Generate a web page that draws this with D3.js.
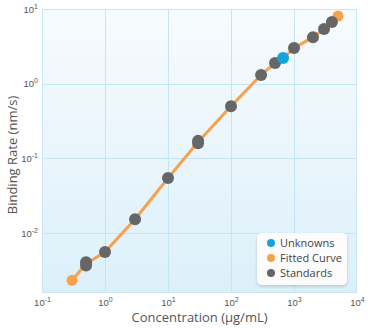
<!DOCTYPE html>
<html>
<head>
<meta charset="utf-8">
<script src="https://cdn.jsdelivr.net/npm/d3@7"></script>
<style>
  html, body { margin: 0; padding: 0; background: #fff; }
  svg { display: block; font-family: "Open Sans", Lato, sans-serif; }
</style>
</head>
<body>
<svg id="chart" width="371" height="328"></svg>
<script>
// Standards (duplicates where two readings were taken)
const standardConc = [0.5, 0.5, 1, 3, 10, 30, 30, 100, 300, 500, 1000, 2000, 3000, 4000];
const standardRate = [0.0041, 0.0037, 0.0056, 0.0154, 0.0546, 0.172, 0.160, 0.50, 1.31, 1.89, 3.0, 4.2, 5.4, 6.7];

// Unknown samples
const unknownConc = [670];
const unknownRate = [2.21];

// Fitted curve, including its extrapolated end points
const curveConc = [0.3, 0.5, 1, 3, 10, 30, 100, 300, 500, 670, 1000, 2000, 3000, 4000, 5000];
const curveRate = [0.00234, 0.0039, 0.0056, 0.0154, 0.0546, 0.166, 0.50, 1.31, 1.89, 2.21, 3.0, 4.2, 5.4, 6.7, 8.05];
const curveEnds = [0, curveConc.length - 1];

// Axis ticks
const xTickExp = [-1, 0, 1, 2, 3, 4];
const yTickExp = [-2, -1, 0, 1];

const legendLabels = ["Unknowns", "Fitted Curve", "Standards"];

const colors = { unknown: "#13a4dc", curve: "#f9a04b", standard: "#666666" };

const svg = d3.select("#chart");
const m = { left: 42, right: 357, top: 9, bottom: 293 };

const x = d3.scaleLog().domain([0.1, 1e4]).range([m.left, m.right]);
const y = d3.scaleLog().domain([Math.pow(10, -2.8), 10]).range([m.bottom, m.top]);

// Plot background gradient
const defs = svg.append("defs");
const grad = defs.append("linearGradient").attr("id", "bg")
  .attr("x1", 0).attr("y1", 0).attr("x2", 0).attr("y2", 1);
grad.append("stop").attr("offset", "0%").attr("stop-color", "#f7fbfe");
grad.append("stop").attr("offset", "100%").attr("stop-color", "#dcf0fa");

const shadow = defs.append("filter").attr("id", "shadow")
  .attr("x", "-20%").attr("y", "-20%").attr("width", "140%").attr("height", "150%");
shadow.append("feDropShadow").attr("dx", 0).attr("dy", 1.5).attr("stdDeviation", 1.5)
  .attr("flood-color", "#000").attr("flood-opacity", 0.18);

svg.append("rect")
  .attr("x", m.left).attr("y", m.top)
  .attr("width", m.right - m.left).attr("height", m.bottom - m.top)
  .attr("fill", "url(#bg)");

// Grid lines at each decade
const grid = svg.append("g").attr("stroke", "#c4e5f6").attr("stroke-width", 1);
grid.selectAll(".gx").data(xTickExp.slice(1, -1)).join("line")
  .attr("x1", d => Math.round(x(Math.pow(10, d))) + 0.5)
  .attr("x2", d => Math.round(x(Math.pow(10, d))) + 0.5)
  .attr("y1", m.top).attr("y2", m.bottom);
grid.selectAll(".gy").data(yTickExp.slice(0, -1)).join("line")
  .attr("y1", d => Math.round(y(Math.pow(10, d))) + 0.5)
  .attr("y2", d => Math.round(y(Math.pow(10, d))) + 0.5)
  .attr("x1", m.left).attr("x2", m.right);

svg.append("rect")
  .attr("x", m.left + 0.5).attr("y", m.top + 0.5)
  .attr("width", m.right - m.left - 1).attr("height", m.bottom - m.top - 1)
  .attr("fill", "none").attr("stroke", "#c9e7f6");

// Power-of-ten tick labels
function powerLabel(sel, exp) {
  sel.append("tspan").text("10");
  sel.append("tspan").attr("dy", -4).attr("font-size", 7).text(exp < 0 ? "-" + (-exp) : exp);
}

const xAxis = d3.axisBottom(x).tickValues(xTickExp.map(e => Math.pow(10, e))).tickSize(0).tickFormat("");
const xg = svg.append("g").attr("transform", `translate(0,${m.bottom})`).call(xAxis);
xg.select(".domain").remove();
xg.selectAll(".tick").each(function(d) {
  const e = Math.round(Math.log10(d));
  d3.select(this).append("text")
    .attr("y", 13).attr("text-anchor", "middle").attr("fill", "#555").attr("font-size", 9.5)
    .call(powerLabel, e);
});

const yAxis = d3.axisLeft(y).tickValues(yTickExp.map(e => Math.pow(10, e))).tickSize(0).tickFormat("");
const yg = svg.append("g").attr("transform", `translate(${m.left},0)`).call(yAxis);
yg.select(".domain").remove();
yg.selectAll(".tick").each(function(d) {
  const e = Math.round(Math.log10(d));
  d3.select(this).append("text")
    .attr("x", -4).attr("dy", 3).attr("text-anchor", "end").attr("fill", "#555").attr("font-size", 9.5)
    .call(powerLabel, e);
});

// Axis titles
svg.append("text")
  .attr("x", (m.left + m.right) / 2).attr("y", 322)
  .attr("text-anchor", "middle").attr("fill", "#555").attr("font-size", 13)
  .text("Concentration (μg/mL)");
svg.append("text")
  .attr("transform", `translate(17,${(m.top + m.bottom) / 2 + 4}) rotate(-90)`)
  .attr("text-anchor", "middle").attr("fill", "#555").attr("font-size", 13)
  .text("Binding Rate (nm/s)");

// Fitted curve
const curvePts = curveConc.map((c, i) => [c, curveRate[i]]);
svg.append("path")
  .datum(curvePts)
  .attr("fill", "none").attr("stroke", colors.curve).attr("stroke-width", 3)
  .attr("stroke-linejoin", "round")
  .attr("d", d3.line().x(d => x(d[0])).y(d => y(d[1])));

// Curve end points
svg.append("g").selectAll("circle").data(curveEnds).join("circle")
  .attr("cx", i => x(curveConc[i])).attr("cy", i => y(curveRate[i]))
  .attr("r", 5.5).attr("fill", colors.curve);

// Standards
svg.append("g").selectAll("circle").data(standardConc.map((c, i) => [c, standardRate[i]])).join("circle")
  .attr("cx", d => x(d[0])).attr("cy", d => y(d[1]))
  .attr("r", 6).attr("fill", colors.standard);

// Unknowns
svg.append("g").selectAll("circle").data(unknownConc.map((c, i) => [c, unknownRate[i]])).join("circle")
  .attr("cx", d => x(d[0])).attr("cy", d => y(d[1]))
  .attr("r", 6).attr("fill", colors.unknown);

// Legend
const lg = svg.append("g").attr("transform", "translate(257,233)");
lg.append("rect").attr("width", 90).attr("height", 52).attr("rx", 5)
  .attr("fill", "#fcfcfc").attr("filter", "url(#shadow)");
const legendColors = [colors.unknown, colors.curve, colors.standard];
const items = lg.selectAll(".item").data(legendLabels).join("g")
  .attr("transform", (d, i) => `translate(0,${10 + i * 15})`);
items.append("circle").attr("cx", 14).attr("cy", 0).attr("r", 4)
  .attr("fill", (d, i) => legendColors[i]);
items.append("text").attr("x", 23).attr("y", 4)
  .attr("font-size", 11).attr("fill", "#444").text(d => d);
</script>
</body>
</html>
